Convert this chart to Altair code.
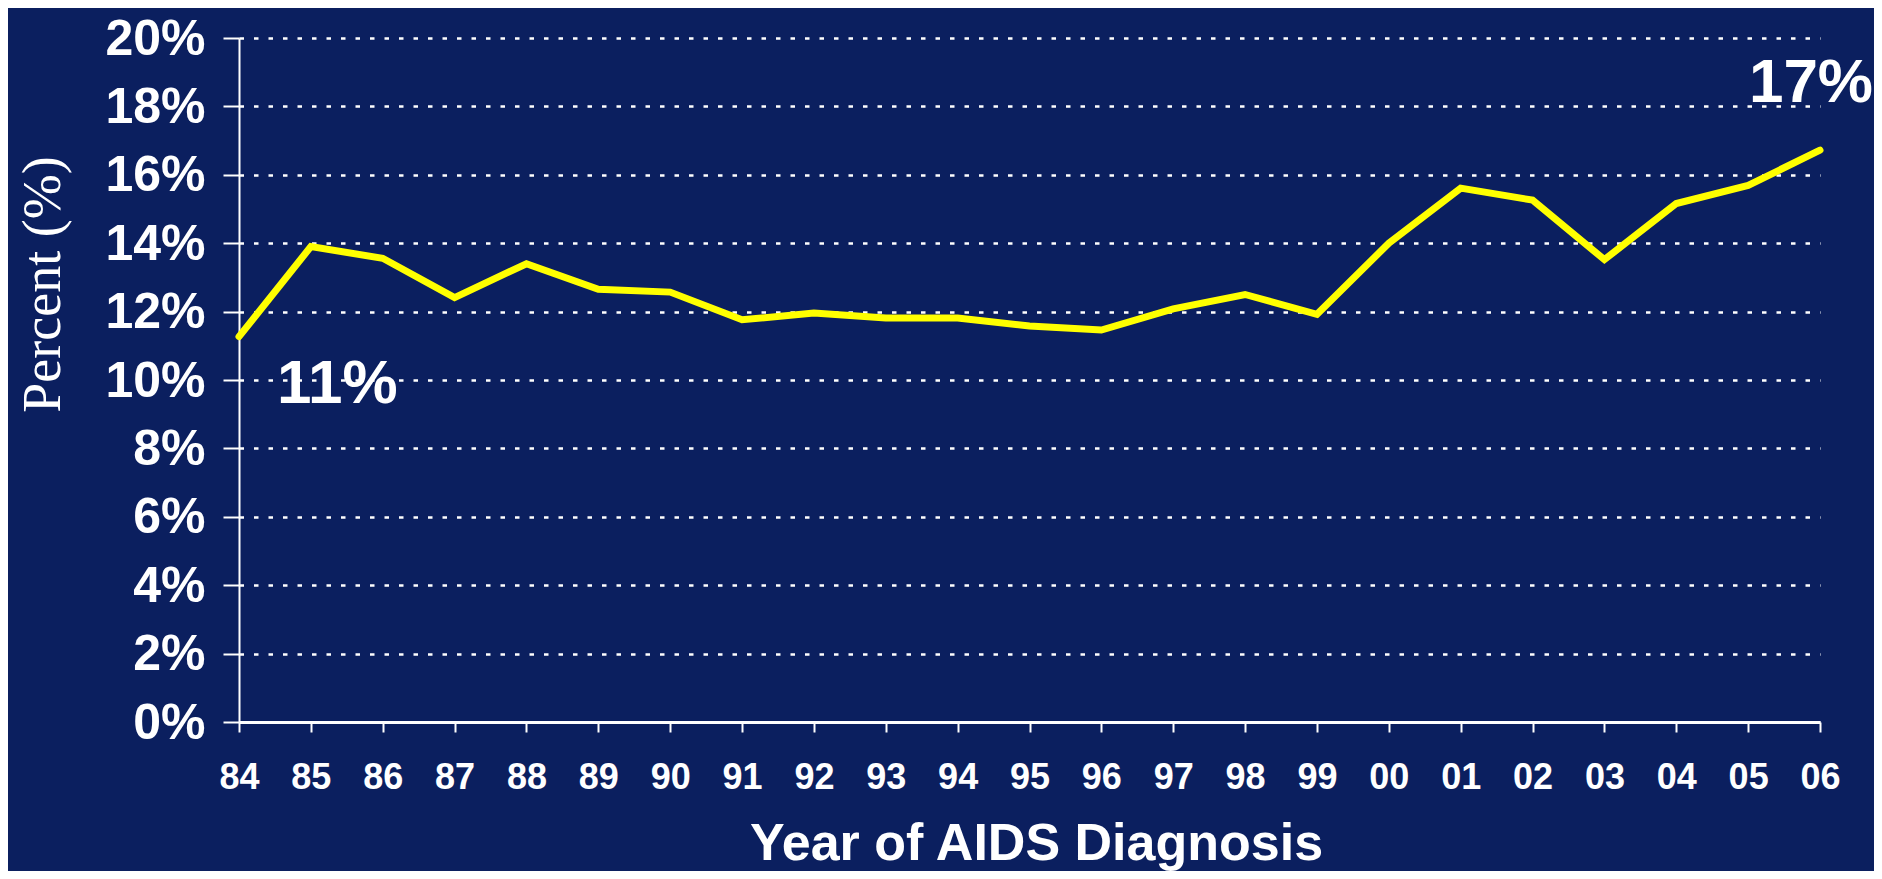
import altair as alt
import pandas as pd

years = ["84", "85", "86", "87", "88", "89", "90", "91", "92", "93", "94", "95",
         "96", "97", "98", "99", "00", "01", "02", "03", "04", "05", "06"]
percent = [11.27, 13.90, 13.56, 12.41, 13.40, 12.65, 12.57, 11.76, 11.96, 11.81,
           11.81, 11.58, 11.46, 12.08, 12.50, 11.92, 14.00, 15.61, 15.26, 13.52,
           15.16, 15.69, 16.72]
y_ticks = [0, 2, 4, 6, 8, 10, 12, 14, 16, 18, 20]

start_label_year = ["84"]
start_label_value = [9.33]
start_label_text = ["11%"]
end_label_year = ["06"]
end_label_value = [18.14]
end_label_text = ["17%"]

BG = "#0b1f5f"
SANS = "Liberation Sans, Arial, Helvetica, sans-serif"
SERIF = "Liberation Serif, Times New Roman, serif"

df = pd.DataFrame({"year": years, "percent": percent})
df_start = pd.DataFrame({"year": start_label_year, "percent": start_label_value, "label": start_label_text})
df_end = pd.DataFrame({"year": end_label_year, "percent": end_label_value, "label": end_label_text})

x_scale = alt.Scale(type="point", domain=years, padding=0)

x_enc = alt.X(
    "year:O",
    scale=x_scale,
    axis=alt.Axis(
        title="Year of AIDS Diagnosis",
        labelAngle=0,
        labelColor="white",
        labelFont=SANS,
        labelFontWeight="bold",
        labelFontSize=36,
        labelBaseline="alphabetic",
        labelPadding=56,
        labelOverlap=False,
        domainColor="white",
        domainWidth=3,
        tickColor="white",
        tickWidth=2,
        tickSize=10,
        grid=False,
        titleColor="white",
        titleFont=SANS,
        titleFontWeight="bold",
        titleFontSize=52,
        titleAlign="center",
        titleBaseline="alphabetic",
        titleX=797,
        titleY=137,
    ),
)

y_enc = alt.Y(
    "percent:Q",
    scale=alt.Scale(domain=[0, 20], nice=False, zero=True),
    axis=alt.Axis(
        title="Percent (%)",
        values=y_ticks,
        labelExpr="datum.value + '%'",
        labelColor="white",
        labelFont=SANS,
        labelFontWeight="bold",
        labelFontSize=50,
        labelBaseline="alphabetic",
        labelOffset=16,
        labelPadding=18,
        labelOverlap=False,
        domainColor="white",
        domainWidth=2,
        tickColor="white",
        tickWidth=2,
        tickSize=16,
        grid=True,
        gridColor="white",
        gridDash=[4.5, 10],
        gridWidth=2.5,
        gridOpacity=1,
        titleColor="white",
        titleFont=SERIF,
        titleFontWeight="normal",
        titleFontSize=54,
        titleAngle=270,
        titleAlign="center",
        titleBaseline="alphabetic",
        titleX=-180,
        titleY=246,
    ),
)

line = alt.Chart(df).mark_line(
    color="#ffff00", strokeWidth=7, strokeCap="round", strokeJoin="miter"
).encode(x=x_enc, y=y_enc)

start_text = alt.Chart(df_start).mark_text(
    align="left", baseline="alphabetic", dx=38, color="white",
    font=SANS, fontWeight="bold", fontSize=62
).encode(x=alt.X("year:O", scale=x_scale), y=alt.Y("percent:Q"), text="label:N")

end_text = alt.Chart(df_end).mark_text(
    align="right", baseline="alphabetic", dx=53, color="white",
    font=SANS, fontWeight="bold", fontSize=62
).encode(x=alt.X("year:O", scale=x_scale), y=alt.Y("percent:Q"), text="label:N")

chart = alt.layer(line, start_text, end_text).properties(
    width=1581,
    height=684,
    background=BG,
    padding={"left": 231, "top": 30, "right": 54, "bottom": 149},
    autosize=alt.AutoSizeParams(type="none"),
).configure_view(strokeWidth=0)

chart.save("out.html", embed_options={"renderer": "svg", "actions": False})
